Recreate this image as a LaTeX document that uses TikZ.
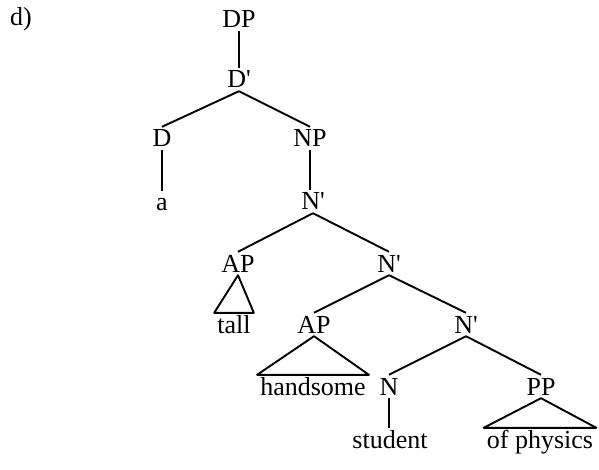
\documentclass[tikz,border=0pt]{standalone}
\usepackage{fontspec}
\setmainfont{Liberation Serif}
\newcommand{\bartick}{\textquotesingle}

\begin{document}
\begin{tikzpicture}[x=1pt,y=-1pt,
  cat/.style={inner sep=3pt,text height=17pt,text depth=0pt,anchor=base,
    font=\fontsize{26pt}{30pt}\selectfont},
  leaf/.style={cat,text depth=6pt},
  br/.style={line width=1.9pt}]
  \useasboundingbox (0,0) rectangle (599,470);
  % label
  \node[cat,anchor=base west] (lab) at (7,26) {d)};
  % categories
  \node[cat] (dp) at (239,28) {DP};
  \node[cat] (dbar) at (239,88) {D\bartick};
  \node[cat] (d) at (162,147) {D};
  \node[cat] (np) at (310,147) {NP};
  \node[cat] (nbara) at (313,210) {N\bartick};
  \node[cat] (apa) at (238,272) {AP};
  \node[cat] (nbarb) at (389,272) {N\bartick};
  \node[cat] (apb) at (314,333) {AP};
  \node[cat] (nbarc) at (466,333) {N\bartick};
  \node[cat] (n) at (389,395) {N};
  \node[cat] (pp) at (541,395) {PP};
  % words
  \node[cat] (a) at (162,211) {a};
  \node[cat] (tall) at (234,333) {tall};
  \node[cat] (hand) at (313,395) {handsome};
  \node[leaf] (stu) at (390,448) {student};
  \node[leaf] (phys) at (540,448) {of physics};
  % branches (unary ones kept vertical)
  \draw[br] (dp.south) -- (dp.south |- dbar.north);
  \draw[br] (dbar.south) -- (d.north);
  \draw[br] (dbar.south) -- (np.north);
  \draw[br] (d.south) -- (a.north);
  \draw[br] (np.south) -- (np.south |- nbara.north);
  \draw[br] (nbara.south) -- (apa.north);
  \draw[br] (nbara.south) -- (nbarb.north);
  \draw[br] (nbarb.south) -- (apb.north);
  \draw[br] (nbarb.south) -- (nbarc.north);
  \draw[br] (nbarc.south) -- (n.north);
  \draw[br] (nbarc.south) -- (pp.north);
  \draw[br] (n.south) -- (n.south |- stu.north);
  % triangles
  \draw[br,line join=round] (apa.south) -- (tall.north west) -- (tall.north east) -- cycle;
  \draw[br,line join=round] (apb.south) -- (hand.north west) -- (hand.north east) -- cycle;
  \draw[br,line join=round] (pp.south) -- (phys.north west) -- (phys.north east) -- cycle;
\end{tikzpicture}
\end{document}
